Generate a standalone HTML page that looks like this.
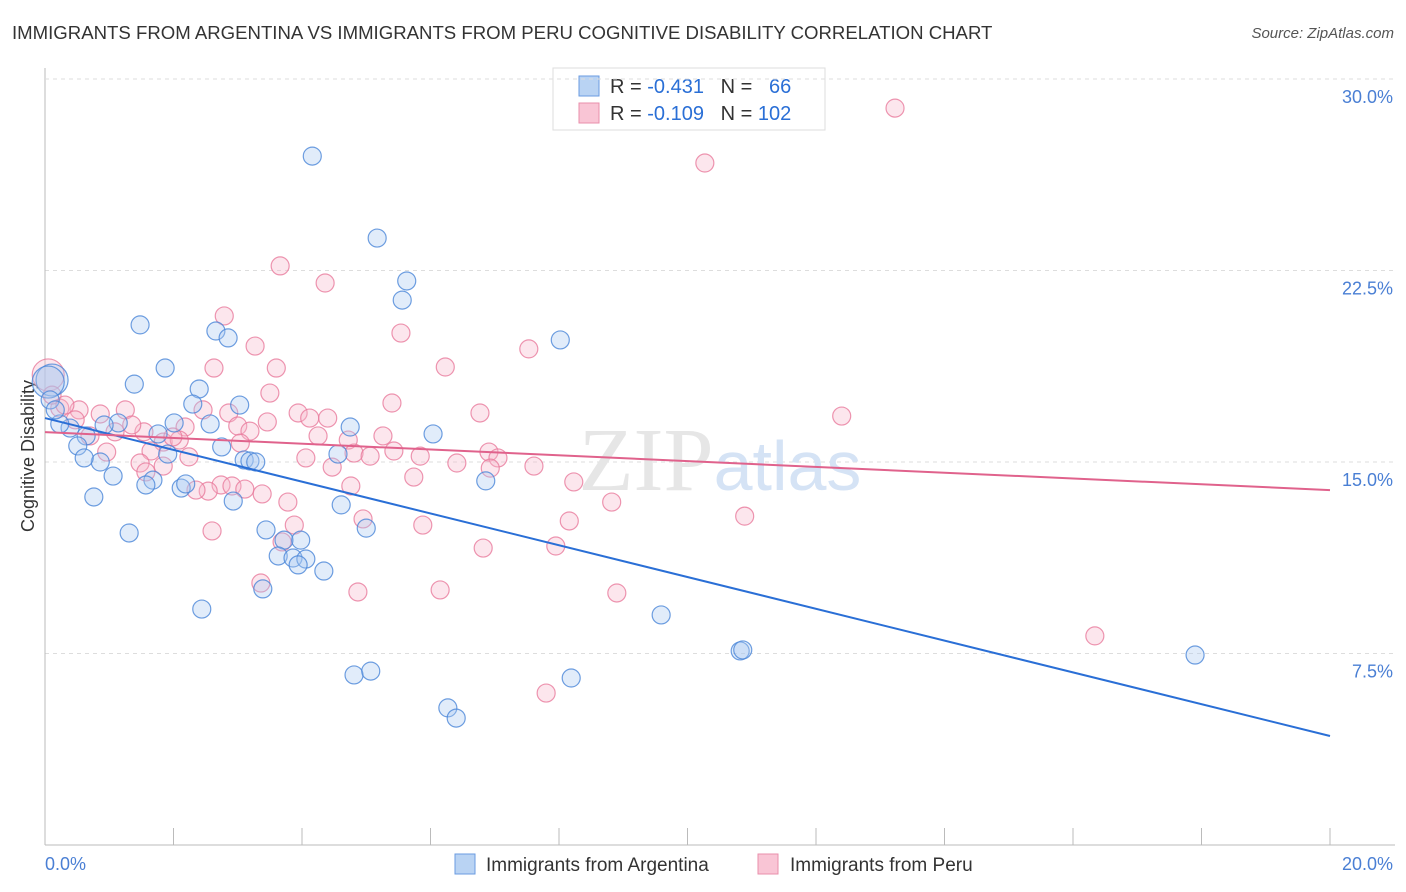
<!DOCTYPE html>
<html><head><meta charset="utf-8"><style>
body{margin:0;background:#fff;font-family:"Liberation Sans",sans-serif}
#wrap{position:relative;width:1406px;height:892px}
.t{position:absolute;white-space:nowrap}
</style></head><body>
<div id="wrap">
<div class="t" style="left:12px;top:22px;font-size:18.6px;color:#333">IMMIGRANTS FROM ARGENTINA VS IMMIGRANTS FROM PERU COGNITIVE DISABILITY CORRELATION CHART</div>
<div class="t" style="right:12px;top:25px;font-size:15px;color:#555;font-style:italic">Source: ZipAtlas.com</div>
<svg id="plot" width="1406" height="892" style="position:absolute;left:0;top:0"></svg>
</div>
<script>
const blueX=[4.16,5.17,5.63,5.56,8.02,1.48,2.66,2.85,1.87,1.39,2.40,2.30,3.03,2.01,2.57,1.14,0.92,0.39,0.23,4.75,6.04,1.76,0.64,0.51,2.75,1.91,3.10,3.19,3.28,0.86,0.61,4.56,1.06,6.86,1.68,1.57,2.12,2.19,0.76,2.93,4.61,5.00,3.44,1.31,3.72,3.98,3.63,3.86,4.06,3.94,4.34,3.39,2.44,9.59,10.82,10.86,17.90,4.81,5.07,8.19,6.27,6.40,0.11,0.05,0.08,0.16];
const blueY=[26.98,23.77,22.09,21.34,19.78,20.37,20.13,19.86,18.68,18.05,17.86,17.27,17.23,16.53,16.49,16.53,16.45,16.33,16.49,16.37,16.10,16.10,16.02,15.63,15.59,15.31,15.08,15.04,15.00,15.00,15.16,15.31,14.45,14.26,14.29,14.10,13.98,14.14,13.63,13.47,13.32,12.41,12.34,12.22,11.94,11.94,11.32,11.24,11.20,10.97,10.73,10.03,9.24,9.01,7.60,7.64,7.44,6.66,6.81,6.54,5.37,4.97,18.21,18.13,17.43,17.04];
const pinkX=[13.23,10.27,3.66,4.36,2.79,5.54,3.27,7.53,6.23,2.63,3.60,3.50,5.40,12.40,2.86,2.46,3.94,4.12,4.40,6.77,0.86,1.25,0.53,0.23,3.46,3.00,2.18,1.54,1.09,0.70,4.25,5.26,4.72,3.19,1.84,2.09,3.04,1.65,0.96,4.06,4.81,5.06,5.43,5.84,6.91,7.05,6.93,6.41,7.61,4.47,1.48,1.84,1.57,2.24,5.74,8.23,4.76,2.74,2.91,3.11,2.54,2.35,3.38,3.78,8.82,4.95,10.89,8.16,5.88,3.88,2.60,3.69,6.82,7.95,3.36,4.87,6.15,8.90,16.34,7.80,0.05,0.11,0.31,0.47,1.35,1.99];
const pinkY=[28.86,26.71,22.68,22.01,20.72,20.05,19.54,19.43,18.72,18.68,18.68,17.70,17.31,16.80,16.92,17.04,16.92,16.72,16.72,16.92,16.88,17.04,17.04,17.11,16.57,16.41,16.37,16.18,16.18,16.02,16.02,16.02,15.86,16.21,15.78,15.86,15.74,15.43,15.39,15.16,15.35,15.23,15.43,15.23,15.39,15.16,14.76,14.96,14.84,14.80,14.96,14.84,14.61,15.20,14.41,14.22,14.06,14.10,14.06,13.94,13.86,13.90,13.75,13.43,13.43,12.77,12.88,12.69,12.53,12.53,12.30,11.87,11.63,11.71,10.26,9.91,9.99,9.87,8.19,5.95,18.41,17.62,17.23,16.65,16.45,15.98];
const blueTrend=[16.72,4.27];
const pinkTrend=[16.17,13.90];
const yTicks=[7.5,15.0,22.5,30.0];
const xTickLabels=["0.0%","20.0%"];
const NS="http://www.w3.org/2000/svg";
const svg=document.getElementById('plot');
const xs=v=>45+v/20*1285, ys=v=>845-v/7.5*191.5;
function mk(t,a,parent){const e=document.createElementNS(NS,t);for(const k in a)e.setAttribute(k,a[k]);(parent||svg).appendChild(e);return e;}
yTicks.forEach(v=>{const l=mk('line',{x1:45,x2:1395,y1:ys(v),y2:ys(v),stroke:'#ddd','stroke-dasharray':'4,4'});


const t=mk('text',{x:1393,y:ys(v)+24,'text-anchor':'end','font-size':18,fill:'#4a7fd4','font-family':'Liberation Sans'});t.textContent=v.toFixed(1)+'%';

});
const ax=mk('line',{x1:45,x2:45,y1:68,y2:845,stroke:'#bbb'});


const bx=mk('line',{x1:45,x2:1395,y1:845,y2:845,stroke:'#bbb'});


for(let i=0;i<=10;i++){const tk=mk('line',{x1:xs(i*2),x2:xs(i*2),y1:828,y2:845,stroke:'#bbb'});

}
xTickLabels.forEach((s,i)=>{const t=mk('text',{x:i?1393:45,y:870,'text-anchor':i?'end':'start','font-size':18,fill:'#4a7fd4','font-family':'Liberation Sans'});t.textContent=s;

});
const yt=mk('text',{x:34,y:456,transform:'rotate(-90 34 456)','text-anchor':'middle','font-size':18,fill:'#333','font-family':'Liberation Sans'});yt.textContent='Cognitive Disability';


const wm=mk('text',{x:720,y:490,'text-anchor':'middle','font-size':90,fill:'#e6e6e6','font-family':'Liberation Serif'});wm.innerHTML='ZIP<tspan fill="#d5e3f5" font-family="Liberation Sans" font-size="70">atlas</tspan>';


function pts(X,Y,fill,stroke,name){X.forEach((x,i)=>{const big=x<0.2&&i>=X.length-6&&Y[i]>18;const c=mk('circle',{cx:xs(x),cy:ys(Y[i]),r:big?16:9,fill:fill,'fill-opacity':0.35,stroke:stroke,'stroke-width':1.2,'stroke-opacity':0.8});

});}
pts(pinkX,pinkY,'#f7b6ca','#e87a9c','peru-point');
pts(blueX,blueY,'#a9c8f0','#4a86d8','argentina-point');
const bl=mk('line',{x1:xs(0),x2:xs(20),y1:ys(blueTrend[0]),y2:ys(blueTrend[1]),stroke:'#2a6fd6','stroke-width':2});


const pl=mk('line',{x1:xs(0),x2:xs(20),y1:ys(pinkTrend[0]),y2:ys(pinkTrend[1]),stroke:'#e0628c','stroke-width':2});


const lg=mk('g',{});


mk('rect',{x:553,y:68,width:272,height:62,fill:'#fff',stroke:'#ddd'},lg);
mk('rect',{x:579,y:76,width:20,height:20,fill:'#b9d3f3',stroke:'#6a9be0'},lg);
mk('rect',{x:579,y:103,width:20,height:20,fill:'#f9c5d5',stroke:'#e98fab'},lg);
const l1=mk('text',{x:610,y:93,'font-size':20,fill:'#333','font-family':'Liberation Sans'},lg);l1.style.whiteSpace='pre';l1.innerHTML='R = <tspan fill="#2a6fd6">-0.431</tspan>   N =   <tspan fill="#2a6fd6">66</tspan>';
const l2=mk('text',{x:610,y:120,'font-size':20,fill:'#333','font-family':'Liberation Sans'},lg);l2.style.whiteSpace='pre';l2.innerHTML='R = <tspan fill="#2a6fd6">-0.109</tspan>   N = <tspan fill="#2a6fd6">102</tspan>';
const bg=mk('g',{});


mk('rect',{x:455,y:854,width:20,height:20,fill:'#b9d3f3',stroke:'#6a9be0'},bg);
const b1=mk('text',{x:486,y:871,'font-size':19,fill:'#333','font-family':'Liberation Sans'},bg);b1.textContent='Immigrants from Argentina';
mk('rect',{x:758,y:854,width:20,height:20,fill:'#f9c5d5',stroke:'#e98fab'},bg);
const b2=mk('text',{x:790,y:871,'font-size':19,fill:'#333','font-family':'Liberation Sans'},bg);b2.textContent='Immigrants from Peru';
const topGrid=mk('line',{x1:45,x2:1395,y1:79,y2:79,stroke:'#ddd','stroke-dasharray':'4,4'});


</script>
</body></html>
